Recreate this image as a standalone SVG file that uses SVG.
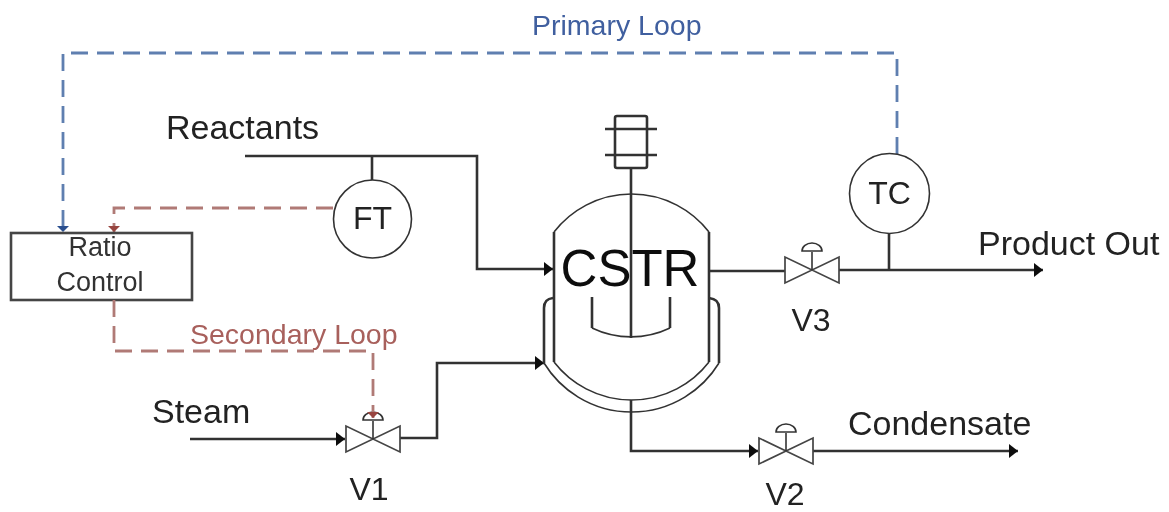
<svg xmlns="http://www.w3.org/2000/svg" width="1169" height="512" viewBox="0 0 1169 512">
<style>
text{font-family:"Liberation Sans",Arial,sans-serif;fill:#222}
.p{fill:none;stroke:#333;stroke-width:2.6}
.t{fill:none;stroke:#333;stroke-width:1.6}
.b{fill:none;stroke:#5f7fb0;stroke-width:2.8;stroke-dasharray:17 9}
.r{fill:none;stroke:#b07a76;stroke-width:2.8;stroke-dasharray:17 9}
.v{fill:#fff;stroke:#444;stroke-width:1.7}
.l{font-size:34px}
.n{font-size:32px}
.o{font-size:28.500px}
.c{font-size:27px;fill:#333}
</style>
<defs>
<filter id="soft" x="0" y="0" width="1" height="1"><feGaussianBlur stdDeviation="0.55"/></filter>
<marker id="a" markerUnits="userSpaceOnUse" markerWidth="10" markerHeight="16" refX="9" refY="8" orient="auto"><path d="M0 1L9 8L0 15Z" fill="#111"/></marker>
<marker id="ab" markerUnits="userSpaceOnUse" markerWidth="14" markerHeight="9" refX="7" refY="8"><path d="M1 2H13L7 8Z" fill="#2a4f8f"/></marker>
<marker id="ar" markerUnits="userSpaceOnUse" markerWidth="14" markerHeight="9" refX="7" refY="8"><path d="M1 2H13L7 8Z" fill="#98443f"/></marker>
<g id="valve"><path class="v" d="M-27 -13V13L27 -13V13Z"/><path class="t" d="M0 0V-18"/><path class="t" d="M-10 -19A10 8 0 0 1 10 -19Z"/></g>
</defs>
<g filter="url(#soft)">
<rect width="1169" height="512" fill="#fff"/>
<g id="connectors">
<path class="p" marker-end="url(#a)" d="M245 156H477V269H553"/>
<path class="p" d="M372 156V180"/>
<path class="p" marker-end="url(#a)" d="M190 439H345"/>
<path class="p" marker-end="url(#a)" d="M400 438H437V363H544"/>
<path class="p" d="M709 271H785"/>
<path class="p" marker-end="url(#a)" d="M839 270H1043"/>
<path class="p" d="M889 233V270"/>
<path class="p" marker-end="url(#a)" d="M631 400V451H758"/>
<path class="p" marker-end="url(#a)" d="M813 451H1018"/>
<path class="b" marker-end="url(#ab)" d="M897 154V53H63V232"/>
<path class="r" marker-end="url(#ar)" d="M333 208H114V232"/>
</g>
<g id="reactor">
<path class="t" d="M554 232A98 98 0 0 1 709 232"/>
<path class="p" d="M554 232V362M709 232V362"/>
<path class="t" d="M554 362A98 98 0 0 0 709 362"/>
<path class="p" d="M553 298Q544 299 544 308V363"/>
<path class="p" d="M709 298Q719 299 719 308V363"/>
<path class="t" d="M544 363A102.600 102.600 0 0 0 719 363"/>
<rect class="p" x="615" y="116" width="32" height="52" rx="2"/>
<path class="p" d="M605 129H657M605 155H657M631 168V338"/>
<path class="p" d="M592 297V328M670 297V328"/>
<path class="t" d="M592 328A90 90 0 0 0 670 328"/>
<text x="630" y="286" font-size="51" text-anchor="middle" style="fill:#111">CSTR</text>
</g>
<g id="ratio-control">
<rect x="11" y="233" width="181" height="67" fill="#fff" stroke="#444" stroke-width="2.600"/>
<text class="c" x="100" y="256" text-anchor="middle">Ratio</text>
<text class="c" x="100" y="291" text-anchor="middle">Control</text>
</g>
<g id="ft"><circle cx="372.500" cy="219" r="39" fill="#fff" stroke="#333" stroke-width="1.600"/><text class="n" x="372.500" y="229" text-anchor="middle">FT</text></g>
<g id="tc"><circle cx="889.500" cy="193.500" r="40" fill="#fff" stroke="#333" stroke-width="1.600"/><text class="n" x="889.500" y="204" text-anchor="middle">TC</text></g>
<g id="v1"><use href="#valve" x="373" y="439"/><text class="n" x="369" y="500" text-anchor="middle">V1</text></g>
<g id="v2"><use href="#valve" x="786" y="451"/><text class="n" x="785" y="505" text-anchor="middle">V2</text></g>
<g id="v3"><use href="#valve" x="812" y="270"/><text class="n" x="811" y="331" text-anchor="middle">V3</text></g>
<path class="r" marker-end="url(#ar)" d="M114 300V351H373V418"/>
<g id="labels">
<text class="l" x="166" y="139">Reactants</text>
<text class="l" x="152" y="423">Steam</text>
<text class="l" x="978" y="255">Product Out</text>
<text class="l" x="848" y="435">Condensate</text>
<text class="o" x="532" y="35" style="fill:#3f5f9f">Primary Loop</text>
<text class="o" x="190" y="344" style="fill:#a8605c">Secondary Loop</text>
</g>
</g>
</svg>
